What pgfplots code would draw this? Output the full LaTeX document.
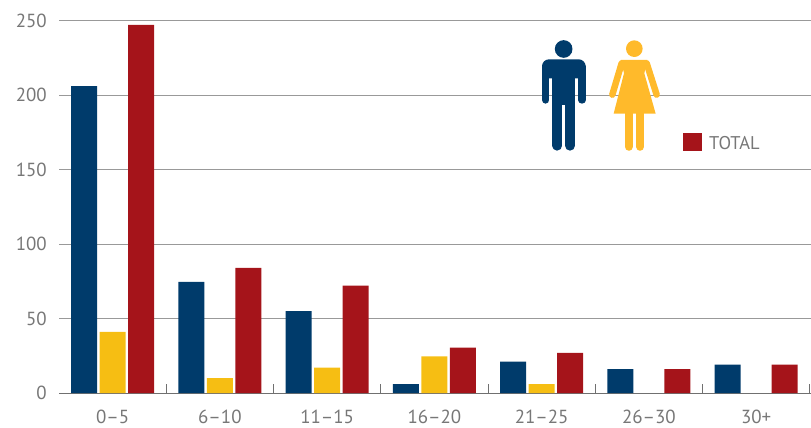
\documentclass[border=0pt]{standalone}
\usepackage{pgfplots}
\pgfplotsset{compat=1.18}
\usepackage{fontspec}
\setmainfont{PT Sans}
\definecolor{navy}{HTML}{003B6B}
\definecolor{amber}{HTML}{F6BE13}
\definecolor{crimson}{HTML}{A5141A}
\definecolor{womancol}{HTML}{FFBA2B}
\definecolor{labelgray}{HTML}{777777}
\definecolor{rulegray}{HTML}{999999}
\definecolor{basegray}{HTML}{707070}
\begin{document}
\begin{tikzpicture}
\useasboundingbox (0bp,0bp) rectangle (811bp,428bp);
\begin{axis}[
  at={(59bp,35bp)}, anchor=south west,
  scale only axis, width=752bp, height=372.5bp,
  xmin=-0.5, xmax=6.511, ymin=0, ymax=250,
  axis x line=bottom, axis y line=left,
  x axis line style={basegray, line width=0.9pt, -},
  y axis line style={draw=none},
  ybar, bar width=26bp,
  xtick={0,1,2,3,4,5,6},
  xticklabels={0--5,6--10,11--15,16--20,21--25,26--30,30+},
  minor xtick={0.5,1.5,2.5,3.5,4.5,5.5,6.5},
  major tick length=0pt,
  minor tick length=9bp,
  xtick align=inside,
  minor tick style={basegray, line width=0.7pt},
  /pgf/number format/assume math mode=true,
  x tick label style={font=\fontsize{19}{19}\selectfont, text=labelgray, yshift=-14bp},
  y tick label style={font=\fontsize{19}{19}\selectfont, text=labelgray, inner sep=0pt, xshift=-12bp},
  ymajorgrids,
  major grid style={rulegray, line width=0.9pt},
  ytick={0,50,100,150,200,250},
  clip=false,
]
\addplot[draw=none, fill=navy, bar shift=-28.5bp] coordinates
  {(0,206) (1,74.5) (2,55) (3,6) (4,21) (5,16) (6,19)};
\addplot[draw=none, fill=amber, bar shift=0bp] coordinates
  {(0,41) (1,10) (2,17) (3,24.5) (4,6)};
\addplot[draw=none, fill=crimson, bar shift=28.5bp] coordinates
  {(0,247) (1,84) (2,72) (3,30.5) (4,27) (5,16) (6,19)};
\end{axis}
% pictograms, drawn on a 3x grid
\begin{scope}[x=0.3333bp, y=-0.3333bp, shift={(520bp,408bp)}]
  % man
  \fill[navy] (131,87) circle [radius=26.5];
  \fill[navy, rounded corners=7bp] (66,118) rectangle (197,175);
  \fill[navy] (97,150) rectangle (165,255);
  \draw[navy, line width=7.33bp, line cap=round] (77,140) -- (77,240);
  \draw[navy, line width=7.33bp, line cap=round] (186,140) -- (186,240);
  \draw[navy, line width=10bp, line cap=round] (112,240) -- (112,377);
  \draw[navy, line width=10bp, line cap=round] (150,240) -- (150,377);
  % woman
  \fill[womancol] (343,86) circle [radius=25];
  \fill[womancol] (303,120) -- (382,120) -- (373,160) -- (407,281) -- (281,281) -- (312,160) -- cycle;
  \draw[womancol, line width=6.5bp, line cap=round] (305,130) -- (277,224);
  \draw[womancol, line width=6.5bp, line cap=round] (380,130) -- (410,224);
  \draw[womancol, line width=8.33bp, line cap=round] (326.5,270) -- (326.5,380);
  \draw[womancol, line width=8.33bp, line cap=round] (360.5,270) -- (360.5,380);
  % legend key
  \fill[crimson] (489,339) rectangle (546,392);
\end{scope}
\node[anchor=west, text=labelgray, font=\fontsize{18.5}{18.5}\selectfont, inner sep=0pt] at (709bp,285bp) {TOTAL};
\end{tikzpicture}
\end{document}
